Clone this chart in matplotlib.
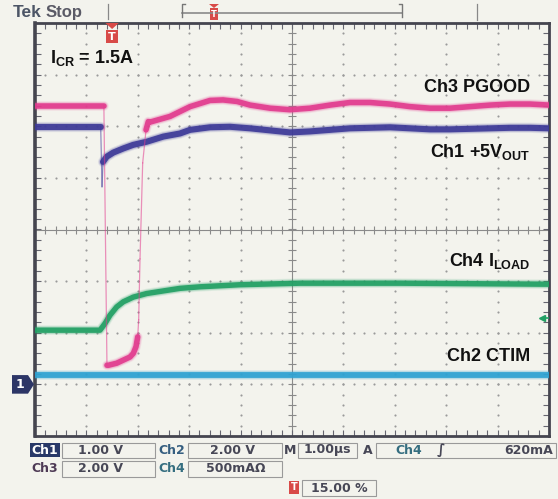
import numpy as np
import matplotlib
matplotlib.use("Agg")
import matplotlib.pyplot as plt
from matplotlib.patches import Rectangle, Polygon
from matplotlib.transforms import blended_transform_factory

# ---------------- data: time in µs (trigger at 0), amplitude in screen divisions -------------
ch3_t = [-1.5, -0.16, -0.10, -0.074, 0.089, 0.218, 0.348, 0.412, 0.465, 0.498, 0.517, 0.543,
         0.595, 0.660, 0.704, 0.737, 1.126, 1.516, 1.905, 2.158, 2.430, 2.683, 3.072, 3.461,
         3.850, 4.239, 4.628, 5.017, 5.407, 5.796, 6.185, 6.574, 6.963, 7.352, 7.741, 8.130, 8.5]
ch3_y = [2.40, 2.40, -2.63, -2.63, -2.59, -2.53, -2.47, -2.40, -2.27, -2.08, -1.75, -0.57,
         1.29, 1.93, 2.09, 2.08, 2.19, 2.38, 2.50, 2.51, 2.48, 2.41, 2.35, 2.32,
         2.35, 2.41, 2.46, 2.46, 2.43, 2.38, 2.35, 2.35, 2.38, 2.41, 2.43, 2.43, 2.41]

ch1_t = [-1.5, -0.222, -0.196, -0.177, -0.105, 0.023, 0.218, 0.412, 0.673, 0.996, 1.321,
         1.516, 1.905, 2.294, 2.683, 3.072, 3.461, 3.850, 4.239, 4.628, 5.017, 5.407, 5.796,
         6.185, 6.574, 6.963, 7.352, 7.741, 8.130, 8.5]
ch1_y = [1.99, 1.99, 0.83, 1.31, 1.41, 1.49, 1.57, 1.64, 1.70, 1.80, 1.86,
         1.93, 1.98, 1.99, 1.96, 1.92, 1.88, 1.90, 1.93, 1.96, 1.97, 1.98, 1.96,
         1.94, 1.94, 1.95, 1.96, 1.97, 1.97, 1.96]

ch4_t = [-1.5, -0.235, -0.138, -0.041, 0.089, 0.218, 0.412, 0.673, 0.996, 1.321, 1.71,
         2.49, 3.66, 5.60, 8.5]
ch4_y = [-1.95, -1.95, -1.82, -1.66, -1.50, -1.40, -1.31, -1.24, -1.19, -1.14, -1.11,
         -1.07, -1.04, -1.04, -1.06]

ch2_t = [-1.5, 8.5]
ch2_y = [-2.82, -2.82]

trigger_level = -1.71     # divisions (Ch4 620 mA)
ch1_ground = -3.0         # divisions
trigger_time = 0.0        # µs

trace_labels = ["Ch3 PGOOD", r"Ch1 +5V$_\mathregular{OUT}$", r"Ch4 I$_\mathregular{LOAD}$", "Ch2 CTIM"]
condition_label = r"I$_\mathregular{CR}$ = 1.5A"

status_row1 = ["Ch1", "1.00 V", "Ch2", "2.00 V", "M", "1.00µs", "A", "Ch4", "∫", "620mA"]
status_row2 = ["Ch3", "2.00 V", "Ch4", "500mAΩ"]
trigger_pos = "15.00 %"

# ---------------- style ----------------
BG = "#f3f3ed"
C_PINK = "#e23b8e"
C_BLUE = "#3d3a98"
C_GREEN = "#22a064"
C_CYAN = "#2ea2d2"
GRID = "#9a9a9a"
FRAME = "#45454f"

W, H = 558, 499
fig = plt.figure(figsize=(W / 100, H / 100), dpi=100, facecolor=BG)

L, R, T, B = 35, 549, 23, 436
ax = fig.add_axes([L / W, (H - B) / H, (R - L) / W, (B - T) / H])
ax.set_facecolor(BG)
ax.set_xlim(-1.5, 8.5)
ax.set_ylim(-4, 4)

# overlay in pixel coordinates for screen annotations
ov = fig.add_axes([0, 0, 1, 1], zorder=5)
ov.set_xlim(0, W)
ov.set_ylim(H, 0)
ov.axis("off")
ov.patch.set_alpha(0)

# ---------------- graticule ----------------
xdiv = np.arange(-1.5, 8.51, 1.0)
ydiv = np.arange(-4, 4.01, 1.0)
xmin = np.arange(-1.5, 8.501, 0.2)
ymin = np.arange(-4, 4.001, 0.2)
xc, yc = 3.5, 0.0
for x in xdiv[1:-1]:
    if abs(x - xc) > 1e-6:
        ax.scatter(np.full(ymin.size, x), ymin, s=2.4, color=GRID, lw=0, zorder=1)
for y in ydiv[1:-1]:
    if abs(y - yc) > 1e-6:
        ax.scatter(xmin, np.full(xmin.size, y), s=2.4, color=GRID, lw=0, zorder=1)
ax.axhline(yc, color="#8a8a8a", lw=0.8, zorder=1)
ax.axvline(xc, color="#8a8a8a", lw=0.8, zorder=1)
ax.plot(xmin, np.full(xmin.size, yc), ls="none", marker="|", ms=6, mew=0.8, color="#8a8a8a", zorder=1)
ax.plot(np.full(ymin.size, xc), ymin, ls="none", marker="_", ms=6, mew=0.8, color="#8a8a8a", zorder=1)

ax.set_xticks(xmin[1:-1])
ax.set_yticks(ymin[1:-1])
ax.tick_params(direction="in", length=4, width=0.8, color="#666670", top=True, right=True,
               labelbottom=False, labelleft=False)
for s in ax.spines.values():
    s.set_color(FRAME)
    s.set_linewidth(2.0)
ax.spines["left"].set_linewidth(2.6)


# ---------------- traces ----------------
def trace(t, y, color, lw, steep=9.0, z=3):
    t = np.asarray(t, float)
    y = np.asarray(y, float)
    slope = np.abs(np.diff(y) / np.diff(t))
    runs, cur = [], [0]
    for i, s in enumerate(slope):
        if s < steep:
            cur.append(i + 1)
        else:
            if len(cur) > 1:
                runs.append(cur)
            ax.plot(t[i:i + 2], y[i:i + 2], color=color, lw=0.9, alpha=0.55, zorder=z)
            cur = [i + 1]
    if len(cur) > 1:
        runs.append(cur)
    for r in runs:
        for extra, a in ((3.0, 0.10), (1.6, 0.22)):
            ax.plot(t[r], y[r], color=color, lw=lw + extra, alpha=a, solid_capstyle="round",
                    solid_joinstyle="round", zorder=z)
        ax.plot(t[r], y[r], color=color, lw=lw, alpha=0.92, solid_capstyle="round",
                solid_joinstyle="round", zorder=z + 0.1)


trace(ch2_t, ch2_y, C_CYAN, 4.2, z=3)
trace(ch4_t, ch4_y, C_GREEN, 3.9, z=3.2)
trace(ch1_t, ch1_y, C_BLUE, 4.4, z=3.4)
trace(ch3_t, ch3_y, C_PINK, 4.0, z=3.6)

# trigger level arrow (right edge)
ax.plot([8.38, 8.5], [trigger_level, trigger_level], color=C_GREEN, lw=1.2, zorder=4)
ax.plot([8.36], [trigger_level], marker="<", ms=5, color=C_GREEN, zorder=4)

# trigger time marker (top inside)
bt = blended_transform_factory(ax.transData, ov.transData)
ov.add_patch(Polygon([[-0.13, 23], [0.13, 23], [0.0, 29]], closed=True, transform=bt,
                     color="#d84a48", lw=0))
ov.add_patch(Rectangle((-0.12, 29.5), 0.24, 13.5, transform=bt, color="#d84a48", lw=0))
ov.text(trigger_time, 36.5, "T", transform=bt, ha="center", va="center", color="white",
        fontsize=8, fontweight="bold", family="DejaVu Sans")

# ch1 ground marker (left, outside)
bg = blended_transform_factory(ov.transData, ax.transData)
ov.add_patch(Polygon([[12, ch1_ground + 0.18], [28, ch1_ground + 0.18], [34, ch1_ground],
                      [28, ch1_ground - 0.18], [12, ch1_ground - 0.18]], closed=True,
                     transform=bg, color="#2c3566", lw=0))
ov.text(19.5, ch1_ground, "1", transform=bg, ha="center", va="center", color="white",
        fontsize=9, fontweight="bold", family="DejaVu Sans")

# ---------------- labels ----------------
plt.rcParams["mathtext.default"] = "regular"
lab = dict(family="Liberation Sans", fontweight="bold", fontsize=13, color="#111111")
ov.text(50, 63, condition_label, ha="left", va="baseline", **lab)
for txt, yb in zip(trace_labels, [92, 157, 266, 361]):
    ov.text(530, yb, txt, ha="right", va="baseline", **lab)

# top status line
ov.text(13, 17, "Tek", ha="left", va="baseline", family="Liberation Sans", fontweight="bold",
        fontsize=12.5, color="#4c5566")
ov.text(46, 17, "Stop", ha="left", va="baseline", family="Liberation Sans", fontweight="bold",
        fontsize=12, color="#5a5a66")
ov.plot([108, 108], [4, 19], color="#888", lw=0.9)
ov.plot([182, 402], [13, 13], color="#8a8a8a", lw=1.2)
ov.plot([182, 182, 185], [17, 4, 4], color="#777", lw=1.0)
ov.plot([402, 402, 399], [17, 4, 4], color="#777", lw=1.0)
ov.add_patch(Rectangle((210, 8), 8, 12, color="#d84a48", lw=0))
ov.add_patch(Polygon([[209, 4], [219, 4], [214, 8]], closed=True, color="#d84a48", lw=0))
ov.text(214, 14.5, "T", ha="center", va="center", color="white", fontsize=6, fontweight="bold")
ov.plot([477, 477], [4, 20], color="#888", lw=0.9)

# bottom status
st = dict(family="DejaVu Sans", fontweight="bold", fontsize=9, color="#474756", va="center")
BOX = "#9a9a9a"


def box(x0, x1, y0, y1):
    ov.add_patch(Rectangle((x0, y0), x1 - x0, y1 - y0, fill=False, ec=BOX, lw=0.8))


y1 = 450
ov.add_patch(Rectangle((30, 443), 30, 14, color="#283868", lw=0))
ov.text(45, y1, status_row1[0], ha="center", **{**st, "color": "white"})
box(62, 155, 443, 458)
ov.text(101, y1, status_row1[1], ha="center", **st)
ov.text(172, y1, status_row1[2], ha="center", **{**st, "color": "#355e80"})
box(188, 282, 443, 458)
ov.text(232, y1, status_row1[3], ha="center", **st)
ov.text(290, y1, status_row1[4], ha="center", **st)
box(298, 357, 443, 458)
ov.text(327, y1, status_row1[5], ha="center", **st)
ov.text(368, y1, status_row1[6], ha="center", **st)
box(376, 556, 443, 458)
ov.text(409, y1, status_row1[7], ha="center", **{**st, "color": "#356e80"})
ov.text(441, y1, status_row1[8], ha="center", **{**st, "fontsize": 10})
ov.text(553, y1, status_row1[9], ha="right", **st)

y2 = 469
ov.text(45, y2, status_row2[0], ha="center", **{**st, "color": "#4e3a55"})
box(62, 155, 461, 477)
ov.text(101, y2, status_row2[1], ha="center", **st)
ov.text(172, y2, status_row2[2], ha="center", **{**st, "color": "#356e80"})
box(188, 282, 461, 477)
ov.text(236, y2, status_row2[3], ha="center", **st)

y3 = 488
ov.add_patch(Rectangle((289, 481), 10, 13, color="#d84a48", lw=0))
ov.text(294, 487.5, "T", ha="center", va="center", color="white", fontsize=7, fontweight="bold")
box(302, 376, 480, 496)
ov.text(339, y3, trigger_pos, ha="center", **st)

fig.savefig("out.png", dpi=100, facecolor=BG)
